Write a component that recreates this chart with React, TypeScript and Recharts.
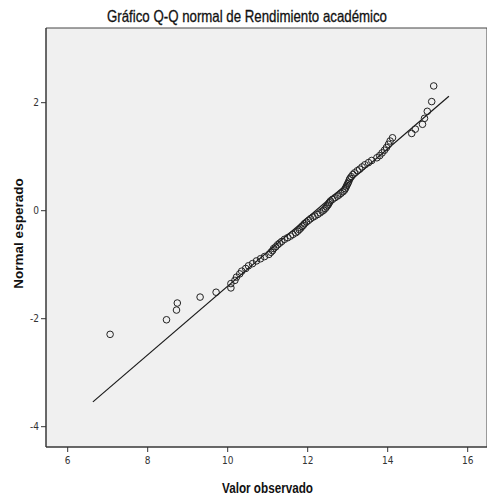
import {
  ScatterChart,
  Scatter,
  XAxis,
  YAxis,
  ReferenceArea,
  ReferenceLine,
} from "recharts";

const observed = [
  7.06, 8.47, 8.72, 8.74, 9.31, 9.71, 10.08, 10.08, 10.18, 10.22,
  10.3, 10.35, 10.45, 10.52, 10.62, 10.72, 10.82, 10.92, 11.03, 11.08,
  11.12, 11.15, 11.2, 11.25, 11.3, 11.35, 11.42, 11.5, 11.57, 11.63,
  11.7, 11.75, 11.79, 11.83, 11.86, 11.89, 11.92, 11.97, 12.02, 12.07,
  12.13, 12.18, 12.25, 12.31, 12.36, 12.4, 12.44, 12.47, 12.5, 12.52,
  12.54, 12.57, 12.62, 12.68, 12.74, 12.78, 12.83, 12.88, 12.92, 12.94,
  12.96, 12.98, 13.0, 13.02, 13.04, 13.06, 13.09, 13.13, 13.17, 13.24,
  13.3, 13.36, 13.43, 13.52, 13.6, 13.73, 13.8, 13.86, 13.92, 13.97,
  14.02, 14.06, 14.12, 14.6, 14.69, 14.87, 14.92, 14.99, 15.1, 15.15,
];

const expected = [
  -2.29, -2.02, -1.84, -1.71, -1.6, -1.51, -1.43, -1.35, -1.29, -1.23,
  -1.17, -1.12, -1.07, -1.02, -0.98, -0.93, -0.89, -0.85, -0.81, -0.77,
  -0.74, -0.7, -0.67, -0.63, -0.6, -0.57, -0.53, -0.5, -0.47, -0.44,
  -0.41, -0.38, -0.35, -0.32, -0.29, -0.27, -0.24, -0.21, -0.18, -0.15,
  -0.12, -0.1, -0.07, -0.04, -0.01, 0.01, 0.04, 0.07, 0.1, 0.12,
  0.15, 0.18, 0.21, 0.24, 0.27, 0.29, 0.32, 0.35, 0.38, 0.41,
  0.44, 0.47, 0.5, 0.53, 0.57, 0.6, 0.63, 0.67, 0.7, 0.74,
  0.77, 0.81, 0.85, 0.89, 0.93, 0.98, 1.02, 1.07, 1.12, 1.17,
  1.23, 1.29, 1.35, 1.43, 1.51, 1.6, 1.71, 1.84, 2.02, 2.31,
];

// extremos de la recta de referencia
const lineX = [6.63, 15.53];
const lineY = [-3.54, 2.12];

const xTicks = [6, 8, 10, 12, 14, 16];
const yTicks = [-4, -2, 0, 2];

const xDomain: [number, number] = [5.4575, 16.4825];
const yDomain: [number, number] = [-4.376, 3.383];

const points = observed.map((x, i) => ({ x, y: expected[i] }));

const narrow = "'DejaVu Sans Condensed', 'Liberation Sans', sans-serif";
const sans = "'Liberation Sans', Arial, sans-serif";

const Ring = (props: any) => (
  <circle cx={props.cx} cy={props.cy} r={3.3} fill="none" stroke="#222" strokeWidth={1} />
);

const XLabel = (props: any) => {
  const { x, y, width } = props.viewBox;
  return (
    <text
      x={x + width / 2 + 1}
      y={y + 46}
      textAnchor="middle"
      textLength={91}
      lengthAdjust="spacingAndGlyphs"
      fontFamily={sans}
      fontSize={14.5}
      fontWeight="bold"
      fill="#111"
    >
      Valor observado
    </text>
  );
};

export default function App() {
  return (
    <div style={{ position: "absolute", left: 0, top: 0, width: 487, height: 496, background: "#fff" }}>
      <ScatterChart width={487} height={496} margin={{ top: 28, right: 0, bottom: 0, left: 0 }}>
        <XAxis
          type="number"
          dataKey="x"
          domain={xDomain}
          ticks={xTicks}
          height={49}
          allowDataOverflow
          stroke="#333"
          tickSize={5}
          tickMargin={5}
          tick={{ fontSize: 10, fill: "#333", fontFamily: narrow }}
          label={<XLabel />}
        />
        <YAxis
          type="number"
          dataKey="y"
          domain={yDomain}
          ticks={yTicks}
          width={46}
          allowDataOverflow
          stroke="#333"
          tickSize={5}
          tickMargin={2}
          tick={{ fontSize: 10, fill: "#333", fontFamily: narrow }}
          label={{
            value: "Normal esperado",
            angle: -90,
            position: "center",
            dx: -5,
            dy: -4,
            style: { fontFamily: sans, fontSize: 13.5, fontWeight: "bold", fill: "#111" },
          }}
        />
        <ReferenceArea
          x1={xDomain[0]}
          x2={xDomain[1]}
          y1={yDomain[0]}
          y2={yDomain[1]}
          fill="#f0f0f0"
          fillOpacity={1}
          stroke="#444"
          strokeWidth={1}
        />
        <ReferenceLine
          segment={[
            { x: lineX[0], y: lineY[0] },
            { x: lineX[1], y: lineY[1] },
          ]}
          stroke="#1a1a1a"
          strokeWidth={1.2}
        />
        <Scatter data={points} shape={Ring} isAnimationActive={false} />
      </ScatterChart>
      <svg width={487} height={28} style={{ position: "absolute", left: 0, top: 0 }}>
        <text
          x={247}
          y={21.5}
          textAnchor="middle"
          textLength={280}
          lengthAdjust="spacingAndGlyphs"
          fontFamily={sans}
          fontSize={16.5}
          fill="#111"
          stroke="#111"
          strokeWidth={0.3}
        >
          Gráfico Q-Q normal de Rendimiento académico
        </text>
      </svg>
    </div>
  );
}
